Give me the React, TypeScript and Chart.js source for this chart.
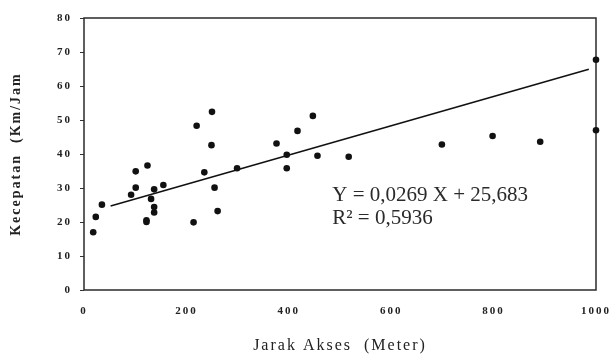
import React, { useEffect, useRef } from 'react';
import { Chart, registerables } from 'chart.js';

Chart.register(...registerables);

// Jarak Akses (Meter)
const accessDistance = [18, 23, 35, 92, 101, 101, 124, 122, 122, 131, 137, 137, 137, 155, 214, 220, 235, 249, 250, 255, 261, 299, 376, 396, 396, 417, 447, 456, 517, 699, 798, 891, 1000, 1000];
// Kecepatan (Km/Jam)
const speed = [17.0, 21.5, 25.1, 28.0, 34.9, 30.1, 36.6, 20.5, 20.0, 26.8, 29.6, 24.4, 22.8, 30.9, 19.9, 48.3, 34.6, 42.6, 52.4, 30.1, 23.2, 35.8, 43.1, 39.8, 35.8, 46.8, 51.2, 39.5, 39.2, 42.8, 45.3, 43.6, 67.7, 47.0];

// Trend line endpoints as drawn
const trendX = [52, 986];
const trendY = [24.7, 64.9];

const xTickValues = [0, 200, 400, 600, 800, 1000];
const yTickValues = [0, 10, 20, 30, 40, 50, 60, 70, 80];

const xTitle = 'Jarak Akses  (Meter)';
const yTitle = 'Kecepatan  (Km/Jam';
const equationLines = ['Y = 0,0269 X + 25,683', 'R\u00B2 = 0,5936'];
const equationAnchor = { x: 485, y: 26.2 };

const SERIF = '"Liberation Serif", "DejaVu Serif", serif';

const framePlugin = {
  id: 'frameAndText',
  beforeDraw(chart: any) {
    const ctx = chart.ctx;
    ctx.save();
    ctx.fillStyle = '#ffffff';
    ctx.fillRect(0, 0, chart.width, chart.height);
    ctx.restore();
    ctx.letterSpacing = '2px';
  },
  beforeDatasetsDraw(chart: any) {
    const { ctx, chartArea: a } = chart;
    ctx.save();
    ctx.letterSpacing = '0px';
    ctx.strokeStyle = '#2a2a2a';
    ctx.lineWidth = 1.5;
    ctx.strokeRect(a.left, a.top, a.right - a.left, a.bottom - a.top);
    ctx.restore();
  },
  afterDraw(chart: any) {
    const { ctx, scales } = chart;
    ctx.letterSpacing = '0px';
    ctx.save();
    ctx.font = '21px ' + SERIF;
    ctx.fillStyle = '#2a2a2a';
    ctx.textAlign = 'left';
    ctx.textBaseline = 'alphabetic';
    const x = scales.x.getPixelForValue(equationAnchor.x);
    const y = scales.y.getPixelForValue(equationAnchor.y);
    equationLines.forEach((t, i) => ctx.fillText(t, x, y + i * 23));
    ctx.restore();
  },
};

export default function App() {
  const ref = useRef<HTMLCanvasElement | null>(null);

  useEffect(() => {
    if (!ref.current) return;
    const points = accessDistance.map((x, i) => ({ x, y: speed[i] }));
    const trend = trendX.map((x, i) => ({ x, y: trendY[i] }));
    const chart = new Chart(ref.current, {
      type: 'scatter',
      data: {
        datasets: [
          {
            type: 'line',
            data: trend,
            borderColor: '#111111',
            borderWidth: 1.6,
            pointRadius: 0,
            fill: false,
            clip: false as any,
          } as any,
          {
            data: points,
            backgroundColor: '#111111',
            borderColor: '#111111',
            pointRadius: 3.3,
            pointBorderWidth: 0,
            clip: false as any,
          } as any,
        ],
      },
      options: {
        animation: false,
        responsive: false,
        devicePixelRatio: 1,
        layout: { padding: { top: 18, right: 16, left: 0, bottom: 0 } },
        plugins: {
          legend: { display: false },
          tooltip: { enabled: false },
        },
        scales: {
          x: {
            type: 'linear',
            min: 0,
            max: 1000,
            afterBuildTicks: (s: any) => {
              s.ticks = xTickValues.map((v) => ({ value: v }));
            },
            afterFit: (s: any) => {
              s.height = 64;
              s.paddingLeft = 0;
              s.paddingRight = 0;
            },
            border: { display: false },
            grid: { display: false, drawTicks: false, drawOnChartArea: false },
            ticks: {
              padding: 15,
              maxRotation: 0,
              color: '#222222',
              callback: (v: any) => String(v),
              font: { family: SERIF, size: 11, weight: 'bold' },
            },
            title: {
              display: true,
              text: xTitle,
              color: '#222222',
              font: { family: SERIF, size: 16, lineHeight: 1 },
              padding: { top: 0, bottom: 0 },
            },
          },
          y: {
            type: 'linear',
            min: 0,
            max: 80,
            afterBuildTicks: (s: any) => {
              s.ticks = yTickValues.map((v) => ({ value: v }));
            },
            afterFit: (s: any) => {
              s.width = 84;
              s.paddingTop = 0;
              s.paddingBottom = 0;
            },
            border: { display: false },
            grid: {
              display: true,
              drawOnChartArea: false,
              drawTicks: true,
              tickLength: 4,
              color: '#333333',
              lineWidth: 1,
            },
            ticks: {
              padding: 8,
              color: '#222222',
              callback: (v: any) => String(v),
              font: { family: SERIF, size: 11, weight: 'bold' },
            },
            title: {
              display: true,
              text: yTitle,
              color: '#222222',
              font: { family: SERIF, size: 14, weight: 'bold' },
              padding: { top: 8, bottom: 0 },
            },
          },
        },
      } as any,
      plugins: [framePlugin],
    });
    return () => chart.destroy();
  }, []);

  return (
    <div style={{ position: 'fixed', left: 0, top: 0, width: 612, height: 354, background: '#fff' }}>
      <canvas ref={ref} width={612} height={354} style={{ display: 'block' }} />
    </div>
  );
}
